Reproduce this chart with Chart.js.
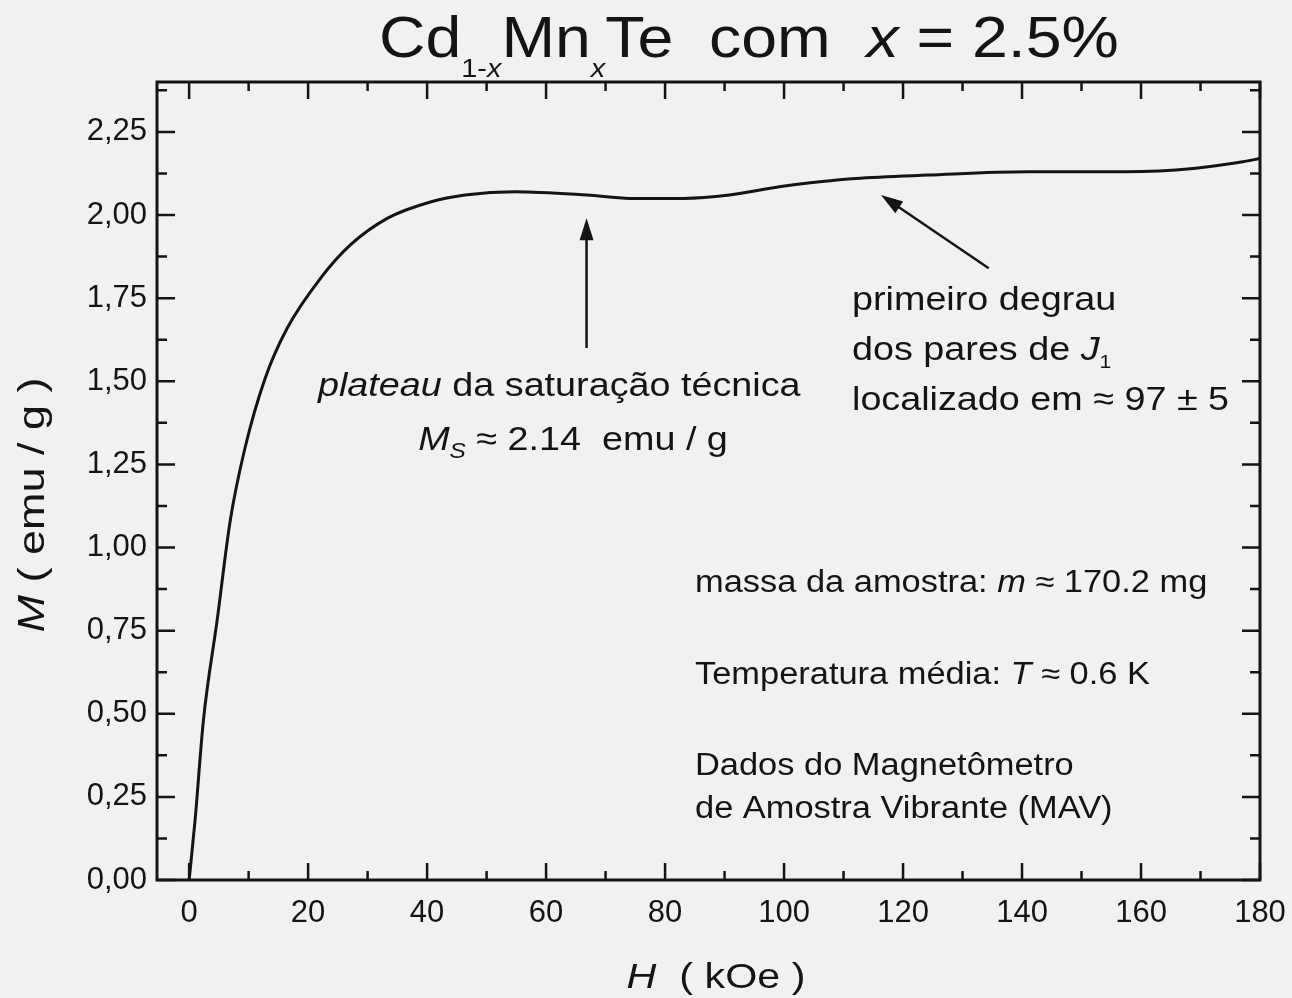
<!DOCTYPE html>
<html>
<head>
<meta charset="utf-8">
<script src="https://cdn.jsdelivr.net/npm/chart.js@4.4.1/dist/chart.umd.min.js"></script>
<style>
  html, body { margin: 0; padding: 0; background: #f1f1ef; }
  #wrap { width: 1292px; height: 998px; position: relative; }
</style>
</head>
<body>
<div id="wrap"><canvas id="mvChart"></canvas></div>
<script>
// M(H) curve
const fieldKOe = [0, 1.0, 2.4, 4.7, 6.9, 9.4, 12.8, 16.5, 22.1, 27.1, 33.3, 40.7, 46.4, 54.8, 66.9, 74.1, 83.1, 90.8, 99.2, 106.0, 112.0, 124.2, 140.9, 157.6, 168.8, 177.1, 180];
const magEmuG  = [0, 0.18, 0.48, 0.78, 1.08, 1.30, 1.51, 1.66, 1.81, 1.91, 1.99, 2.04, 2.06, 2.07, 2.06, 2.05, 2.05, 2.06, 2.085, 2.10, 2.11, 2.12, 2.13, 2.13, 2.14, 2.16, 2.17];

const xTickValues  = [0, 20, 40, 60, 80, 100, 120, 140, 160, 180];
const xMinorValues = [10, 30, 50, 70, 90, 110, 130, 150, 170];
const yTickValues  = [0, 0.25, 0.5, 0.75, 1, 1.25, 1.5, 1.75, 2, 2.25];
const yTickLabels  = ['0,00', '0,25', '0,50', '0,75', '1,00', '1,25', '1,50', '1,75', '2,00', '2,25'];
const yMinorValues = [0.125, 0.375, 0.625, 0.875, 1.125, 1.375, 1.625, 1.875, 2.125, 2.375];

// arrows: [fromH, fromM, toH, toM]
const plateauArrow = [66.8, 1.60, 66.8, 1.99];
const stepArrow    = [134.4, 1.84, 116.3, 2.06];

const INK = '#141414';
const FONT = '"Liberation Sans", Arial, sans-serif';
const STRETCH = 1.11; // the printed lettering is a bit wider than Arial

// draw a line of text made of runs (italic / subscript pieces)
function drawRuns(ctx, x, y, runs, size, align, k) {
  k = k || STRETCH;
  let total = 0;
  const parts = runs.map(r => {
    const s = r.size || size;
    const f = (r.it ? 'italic ' : '') + s + 'px ' + FONT;
    ctx.font = f;
    const w = ctx.measureText(r.t).width;
    total += w;
    return { t: r.t, f, w, dy: r.dy || 0 };
  });
  const start = align === 'center' ? x - total * k / 2 : x;
  ctx.save();
  ctx.translate(start, y);
  ctx.scale(k, 1);
  ctx.textAlign = 'left';
  ctx.textBaseline = 'alphabetic';
  let cx = 0;
  parts.forEach(p => {
    ctx.font = p.f;
    ctx.fillText(p.t, cx, p.dy);
    cx += p.w;
  });
  ctx.restore();
}

function arrow(ctx, x, y, a) {
  const x0 = x.getPixelForValue(a[0]), y0 = y.getPixelForValue(a[1]);
  const x1 = x.getPixelForValue(a[2]), y1 = y.getPixelForValue(a[3]);
  const ang = Math.atan2(y1 - y0, x1 - x0);
  const len = 22, half = 7;
  ctx.beginPath();
  ctx.moveTo(x0, y0);
  ctx.lineTo(x1 - Math.cos(ang) * len * 0.8, y1 - Math.sin(ang) * len * 0.8);
  ctx.lineWidth = 2.5;
  ctx.stroke();
  ctx.beginPath();
  ctx.moveTo(x1, y1);
  ctx.lineTo(x1 - Math.cos(ang) * len - Math.sin(ang) * half, y1 - Math.sin(ang) * len + Math.cos(ang) * half);
  ctx.lineTo(x1 - Math.cos(ang) * len + Math.sin(ang) * half, y1 - Math.sin(ang) * len - Math.cos(ang) * half);
  ctx.closePath();
  ctx.fill();
}

const frameAndText = {
  id: 'frameAndText',
  afterDatasetsDraw(chart) {
    const { ctx, chartArea: a, scales: { x, y } } = chart;
    ctx.save();
    ctx.strokeStyle = INK;
    ctx.fillStyle = INK;
    ctx.lineWidth = 3;
    ctx.strokeRect(a.left, a.top, a.right - a.left, a.bottom - a.top);

    // inward ticks on all four sides
    ctx.lineWidth = 2.5;
    ctx.beginPath();
    const tx = (v, len) => {
      const p = x.getPixelForValue(v);
      ctx.moveTo(p, a.bottom); ctx.lineTo(p, a.bottom - len);
      ctx.moveTo(p, a.top); ctx.lineTo(p, a.top + len);
    };
    const ty = (v, len) => {
      const p = y.getPixelForValue(v);
      ctx.moveTo(a.left, p); ctx.lineTo(a.left + len, p);
      ctx.moveTo(a.right, p); ctx.lineTo(a.right - len, p);
    };
    xTickValues.forEach(v => tx(v, 17));
    xMinorValues.forEach(v => tx(v, 9));
    yTickValues.forEach(v => ty(v, 18));
    yMinorValues.forEach(v => ty(v, 10));
    ctx.stroke();

    arrow(ctx, x, y, plateauArrow);
    arrow(ctx, x, y, stepArrow);

    // title
    drawRuns(ctx, 379, 57, [
      { t: 'Cd' }, { t: '1-', size: 26, dy: 20 }, { t: 'x', size: 26, dy: 20, it: true },
      { t: 'Mn' }, { t: 'x', size: 26, dy: 20, it: true },
      { t: 'Te  com  ' }, { t: 'x', it: true }, { t: ' = 2.5%' }
    ], 58, 'left');

    // annotations
    drawRuns(ctx, 318, 396, [{ t: 'plateau', it: true }, { t: ' da saturação técnica' }], 34, 'left');
    drawRuns(ctx, 573, 450, [
      { t: 'M', it: true }, { t: 'S', it: true, size: 22, dy: 8 },
      { t: ' ≈ 2.14  emu / g' }
    ], 34, 'center');
    drawRuns(ctx, 852, 310, [{ t: 'primeiro degrau' }], 34, 'left');
    drawRuns(ctx, 852, 360, [{ t: 'dos pares de ' }, { t: 'J', it: true }, { t: '1', size: 19, dy: 8 }], 34, 'left');
    drawRuns(ctx, 852, 410, [{ t: 'localizado em ≈ 97 ± 5' }], 34, 'left');

    drawRuns(ctx, 695, 592, [{ t: 'massa da amostra: ' }, { t: 'm', it: true }, { t: ' ≈ 170.2 mg' }], 31, 'left');
    drawRuns(ctx, 695, 684, [{ t: 'Temperatura média: ' }, { t: 'T', it: true }, { t: ' ≈ 0.6 K' }], 31, 'left');
    drawRuns(ctx, 695, 775, [{ t: 'Dados do Magnetômetro' }], 31, 'left');
    drawRuns(ctx, 695, 818, [{ t: 'de Amostra Vibrante (MAV)' }], 31, 'left');

    // axis titles
    drawRuns(ctx, 716, 988, [{ t: 'H', it: true }, { t: '  ( kOe )' }], 35, 'center', 1.18);
    ctx.translate(44, 505);
    ctx.rotate(-Math.PI / 2);
    drawRuns(ctx, 0, 0, [{ t: 'M', it: true }, { t: ' ( emu / g )' }], 36, 'center', 1.25);
    ctx.restore();
  }
};

new Chart(document.getElementById('mvChart'), {
  type: 'line',
  data: {
    datasets: [{
      data: fieldKOe.map((h, i) => ({ x: h, y: magEmuG[i] })),
      borderColor: INK,
      borderWidth: 3,
      pointRadius: 0,
      cubicInterpolationMode: 'monotone',
      fill: false
    }]
  },
  options: {
    responsive: true,
    maintainAspectRatio: false,
    animation: false,
    layout: { padding: { top: 82, right: 32, left: 0, bottom: 0 } },
    plugins: { legend: { display: false }, tooltip: { enabled: false }, title: { display: false } },
    scales: {
      x: {
        type: 'linear',
        min: -5.4,
        max: 180,
        grid: { display: false, drawTicks: false },
        border: { display: false },
        afterFit: s => { s.height = 118; s.paddingLeft = 0; s.paddingRight = 0; },
        afterBuildTicks: s => { s.ticks = xTickValues.map(v => ({ value: v })); },
        ticks: {
          padding: 15,
          color: INK,
          font: { family: FONT, size: 31 },
          maxRotation: 0,
          callback: v => String(v)
        }
      },
      y: {
        type: 'linear',
        min: 0,
        max: 2.4,
        grid: { display: false, drawTicks: false },
        border: { display: false },
        afterFit: s => { s.width = 157; s.paddingTop = 0; s.paddingBottom = 0; },
        afterBuildTicks: s => { s.ticks = yTickValues.map(v => ({ value: v })); },
        ticks: {
          padding: 10,
          color: INK,
          font: { family: FONT, size: 31 },
          callback: v => yTickLabels[yTickValues.indexOf(v)]
        }
      }
    }
  },
  plugins: [frameAndText]
});
</script>
</body>
</html>
